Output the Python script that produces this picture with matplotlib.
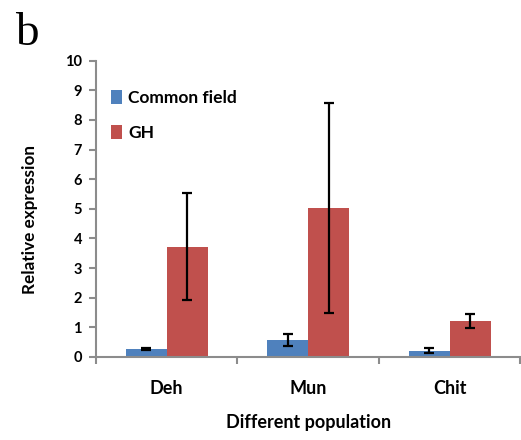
import matplotlib

matplotlib.use("Agg")

import matplotlib.pyplot as plt
import numpy as np

BLUE = "#4F81BD"
RED = "#C0504D"
AXIS_GREY = "#8C8C8C"

populations = ["Deh", "Mun", "Chit"]
common_field = [0.27, 0.57, 0.21]
common_field_err = [0.03, 0.20, 0.08]
gh = [3.72, 5.02, 1.20]
gh_err = [1.80, 3.55, 0.24]

plt.rcParams["font.family"] = ["Lato", "DejaVu Sans"]

fig = plt.figure(figsize=(5.21, 4.40), dpi=100)
ax = fig.add_axes([0.184, 0.189, 0.815, 0.673])

x = np.arange(len(populations))
width = 0.29
err_kw = dict(ecolor="black", elinewidth=1.6, capsize=3.5, capthick=1.6)
ax.bar(x - width / 2, common_field, width, color=BLUE, label="Common field",
       yerr=common_field_err, error_kw=err_kw, zorder=2)
ax.bar(x + width / 2, gh, width, color=RED, label="GH",
       yerr=gh_err, error_kw=err_kw, zorder=2)

ax.set_xlim(-0.5, len(populations) - 0.5)
ax.set_ylim(0, 10)
ax.set_yticks(range(0, 11))
ax.set_xticks(x)
ax.set_xticklabels(populations, fontsize=13, fontweight="bold")
ax.set_xticks(np.arange(-0.5, len(populations)), minor=True)
ax.tick_params(axis="x", which="major", length=0, pad=17)
ax.tick_params(axis="x", which="minor", length=5, color=AXIS_GREY, width=1.5)
ax.tick_params(axis="y", length=5, color=AXIS_GREY, width=1.5, labelsize=10.5, pad=5)
for lbl in ax.get_yticklabels():
    lbl.set_fontweight("bold")

for side in ("top", "right"):
    ax.spines[side].set_visible(False)
for side in ("left", "bottom"):
    ax.spines[side].set_color(AXIS_GREY)
    ax.spines[side].set_linewidth(1.5)

ax.set_xlabel("Different population", fontsize=13, fontweight="bold", labelpad=12)
ax.set_ylabel("Relative expression", fontsize=12.3, fontweight="bold")
ax.yaxis.set_label_coords(-0.136, 0.463)

ax.legend(loc="upper left", bbox_to_anchor=(0.0, 0.955), frameon=False,
          prop={"size": 12.5, "weight": "bold"}, handlelength=0.6, handleheight=0.9,
          handletextpad=0.35, labelspacing=1.1)

fig.text(0.029, 0.898, "b", fontsize=34, family="Liberation Serif", va="baseline")

fig.savefig("out.png", dpi=100, facecolor="white")
